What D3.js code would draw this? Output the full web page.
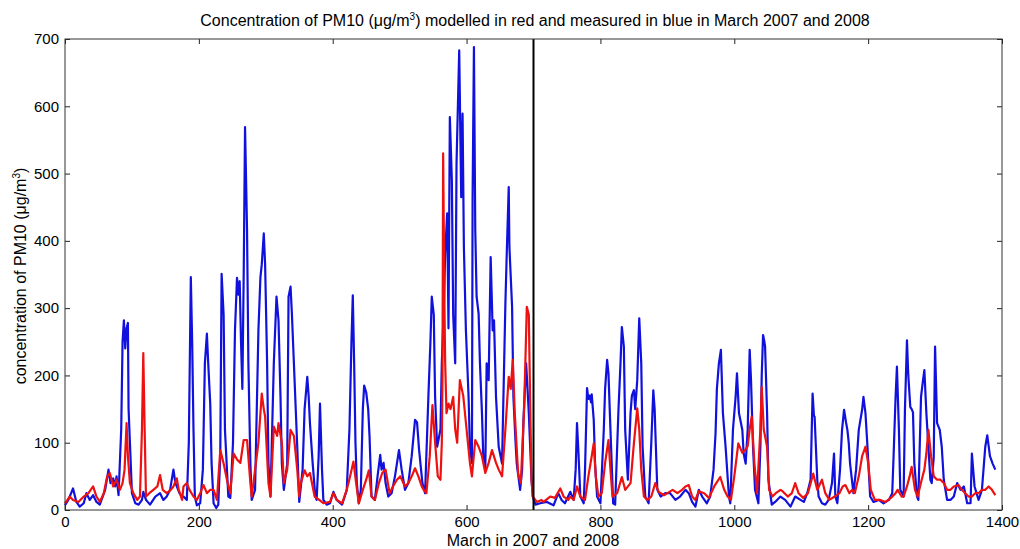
<!DOCTYPE html>
<html><head><meta charset="utf-8">
<script src="https://cdn.jsdelivr.net/npm/d3@7"></script>
<style>body{margin:0;background:#fff} text{font-family:"Liberation Sans",Arial,sans-serif}</style>
</head><body><svg id="c" width="1020" height="549"></svg>
<script>
const measuredX=[0,5,12,17,22,28,32,37,42,47,52,60,65,68,72,75,77,80,84,86,88,90,92,94,95,97,100,105,110,115,117,121,127,135,142,147,152,157,162,165,167,171,175,
177,182,185,188,190,192,194,197,202,206,209,212,214,217,219,222,226,229,232,234,237,239,244,247,251,254,257,259,261,263,265,267,269,272,274,277,279,284,289,292,294,297,299,302,304,307,312,316,319,322,324,327,332,334,337,339,342,347,
350,355,358,362,364,366,370,374,376,379,381,384,386,391,396,401,406,414,421,425,428,430,432,434,436,439,442,445,447,450,453,455,458,463,467,471,473,476,479,483,488,493,499,503,508,513,518,523,526,529,
531,534,538,543,546,548,551,553,556,558,561,563,566,568,571,573,575,578,580,583,585,589,592,594,596,599,603,605,608,609,611,613,615,618,620,623,625,628,630,633,636,639,641,644,648,653,658,660,663,664,668,670,673,675,680,683,685,689,693,697,699,703,710,
720,730,737,742,747,755,760,763,765,767,770,775,777,780,782,784,786,787,790,792,795,800,805,807,810,812,815,819,822,827,830,832,835,837,841,845,847,850,852,855,858,861,863,867,872,876,879,881,882,885,890,
897,904,912,919,927,932,937,942,947,952,959,964,969,972,974,977,980,983,987,992,994,998,1002,1004,1007,1009,1012,1014,1017,1020,1023,1025,1028,1031,1036,1039,1041,1043,1045,1046,1049,1051,1056,1061,1069,
1076,1084,1091,1099,1104,1109,1114,1117,1119,1120,1124,1126,1131,1136,1141,1146,1149,1151,1154,1158,1161,1164,1167,1169,1171,1173,1178,1182,1186,1191,1193,1196,1199,1203,1208,1216,1223,1231,1236,1238,1241,1243,1246,1248,
1253,1255,1258,1260,1263,1265,1267,1269,1273,1275,1279,1282,1284,1287,1290,1293,1295,1298,1300,1303,1307,1310,1313,1318,1323,1328,1333,1338,1343,1348,1353,1355,1359,1365,1370,1375,1378,1382,1386,1390];
const measured=[7,15,32,12,5,10,25,15,22,12,8,30,60,40,47,35,50,22,120,250,282,240,270,278,150,100,25,10,8,15,27,15,8,20,25,15,20,30,60,40,35,25,20,
20,15,100,346,250,119,20,7,10,60,218,262,218,158,70,10,3,8,80,351,290,119,20,18,100,268,345,320,340,250,180,350,569,416,218,69,15,30,267,346,365,411,365,218,69,20,218,317,282,168,69,30,69,317,332,292,218,94,
12,60,150,198,170,129,70,20,15,80,158,60,15,8,10,27,15,8,30,120,250,319,220,100,40,10,30,150,185,175,150,110,20,15,50,82,60,70,40,20,25,50,89,60,30,40,80,134,130,90,
70,40,25,170,250,317,290,168,94,104,120,218,300,380,441,270,584,490,290,218,515,683,465,589,390,267,168,94,70,465,688,416,317,292,218,144,79,60,218,193,376,267,282,168,94,69,307,380,480,391,302,168,104,69,30,60,134,218,144,45,20,8,10,
12,7,25,15,10,27,15,60,129,89,20,10,60,181,165,170,160,172,134,69,20,10,119,180,223,203,119,10,8,150,218,272,243,119,45,144,170,178,150,193,285,218,94,20,10,100,178,150,119,30,20,
25,25,15,20,30,25,12,5,30,20,10,20,60,114,180,218,238,144,94,20,10,119,168,203,144,134,119,84,69,119,238,193,94,30,10,94,200,260,250,243,144,45,8,12,20,
15,5,20,15,12,25,45,173,140,139,45,20,10,8,15,40,84,20,10,60,119,149,130,119,100,69,25,60,119,149,168,144,94,20,12,15,10,15,25,80,168,213,119,30,
20,150,252,200,153,150,145,69,20,15,168,193,208,144,94,45,40,79,243,129,119,94,45,15,15,20,40,30,35,10,10,84,35,15,30,94,111,80,69,60];
const modelledX=[0,7,12,20,28,35,42,47,52,58,63,67,72,77,82,86,89,92,94,97,102,108,112,115,117,119,121,126,132,138,142,146,152,158,162,167,170,175,
177,182,186,192,197,202,207,212,217,222,227,232,237,243,247,252,257,262,267,272,277,279,284,289,294,297,299,304,307,312,317,319,324,327,332,337,342,347,350,
351,358,362,366,373,380,386,396,401,406,414,421,426,431,435,439,445,450,454,458,463,469,474,479,485,490,496,501,508,513,518,523,528,533,
536,540,545,549,553,557,561,563,564,565,567,568,570,573,576,580,583,586,590,595,600,605,608,613,618,623,628,633,638,644,648,653,658,663,666,669,672,677,681,686,690,693,695,697,699,705,712,
715,725,732,740,745,752,755,760,765,770,777,782,787,790,793,797,802,807,812,815,818,825,832,837,845,850,855,858,861,865,870,876,882,887,895,
900,908,915,922,927,932,937,942,947,955,962,970,979,985,990,995,1000,1006,1012,1017,1020,1023,1026,1030,1034,1039,1041,1044,1049,1052,1057,1062,1069,
1072,1080,1086,1091,1096,1103,1110,1118,1124,1131,1136,1142,1150,1157,1162,1166,1172,1176,1180,1186,1191,1196,1200,1204,1210,1218,1226,1234,1241,1244,1250,
1253,1258,1262,1265,1270,1274,1280,1284,1287,1290,1294,1298,1303,1308,1313,1318,1323,1328,1335,1340,1345,1350,1355,1360,1365,1370,1375,1380,1385,1390];
const modelled=[10,20,15,12,20,25,35,20,12,25,50,55,35,45,30,40,60,129,80,40,25,15,20,120,233,120,20,25,30,35,52,30,25,30,35,47,30,15,
35,40,30,20,15,25,37,25,30,30,15,89,69,40,25,84,75,70,104,104,40,20,60,100,173,150,139,40,20,124,110,129,100,40,60,119,110,60,20,
35,59,50,55,20,15,10,12,25,15,10,30,50,72,40,10,30,45,59,20,15,40,55,60,25,35,45,50,35,40,50,62,50,35,
30,25,80,156,100,50,45,100,200,530,300,220,144,158,150,168,120,100,193,170,120,70,50,104,94,80,55,70,89,70,60,50,120,198,180,223,144,54,40,150,302,290,160,45,20,12,15,
12,20,18,32,20,15,20,15,35,20,15,50,80,99,50,20,25,70,104,60,20,25,49,30,40,99,151,120,60,20,15,20,40,27,22,
25,30,25,30,35,37,20,15,28,25,18,35,49,30,20,15,50,99,85,90,95,120,139,70,25,120,183,120,94,30,20,25,30,
28,20,25,40,25,18,25,54,30,45,25,15,20,25,35,37,25,30,25,50,80,94,70,30,15,15,12,18,25,30,20,
20,35,50,64,30,20,45,60,84,119,80,50,45,45,40,30,30,35,37,30,25,20,20,25,25,30,30,35,30,22];
const xTicks=[0,200,400,600,800,1000,1200,1400];
const yTicks=[0,100,200,300,400,500,600,700];
const divider=700;

const svg=d3.select("#c");
const x=d3.scaleLinear().domain([0,1400]).range([65,1002]);
const y=d3.scaleLinear().domain([0,700]).range([510,39]);

const line=d3.line().x(d=>x(d[0])).y(d=>y(d[1]));
const mData=measuredX.map((v,i)=>[v,measured[i]]);
const rData=modelledX.map((v,i)=>[v,modelled[i]]);

svg.append("path").datum(mData).attr("d",line).attr("fill","none").attr("stroke","#1111dd").attr("stroke-width",2.2).attr("stroke-linejoin","round");
svg.append("path").datum(rData).attr("d",line).attr("fill","none").attr("stroke","#ee1111").attr("stroke-width",2.2).attr("stroke-linejoin","round");

svg.append("line").attr("x1",x(divider)).attr("x2",x(divider)).attr("y1",y(700)).attr("y2",y(0)).attr("stroke","#000").attr("stroke-width",2);

const fmt=d3.format("d");
function styleAxis(g){g.select(".domain").remove();g.selectAll(".tick line").attr("stroke","#222");g.selectAll("text").attr("fill","#000").style("font-size","15px").style("font-family","'Liberation Sans',Arial,sans-serif");}
svg.append("g").attr("transform","translate(0,510)").call(d3.axisBottom(x).tickValues(xTicks).tickFormat(fmt).tickSize(-5).tickPadding(6)).call(styleAxis);
svg.append("g").attr("transform","translate(0,39)").call(d3.axisTop(x).tickValues(xTicks).tickSize(-5).tickFormat("")).call(styleAxis);
svg.append("g").attr("transform","translate(65,0)").call(d3.axisLeft(y).tickValues(yTicks).tickFormat(fmt).tickSize(-5).tickPadding(6)).call(styleAxis);
svg.append("g").attr("transform","translate(1002,0)").call(d3.axisRight(y).tickValues(yTicks).tickSize(-5).tickFormat("")).call(styleAxis);
svg.append("rect").attr("x",65).attr("y",39).attr("width",937).attr("height",471).attr("fill","none").attr("stroke","#333").attr("stroke-width",1);

const t=svg.append("text").attr("x",535).attr("y",26).attr("text-anchor","middle").style("font-size","16px");
t.append("tspan").text("Concentration of PM10 (μg/m");
t.append("tspan").attr("dy",-6).style("font-size","10px").text("3");
t.append("tspan").attr("dy",6).text(") modelled in red and measured in blue in March 2007 and 2008");

svg.append("text").attr("x",533).attr("y",546).attr("text-anchor","middle").style("font-size","16px").text("March in 2007 and 2008");

const yl=svg.append("text").attr("transform","translate(26,276) rotate(-90)").attr("text-anchor","middle").style("font-size","16px");
yl.append("tspan").text("concentration of PM10 (μg/m");
yl.append("tspan").attr("dy",-6).style("font-size","10px").text("3");
yl.append("tspan").attr("dy",6).text(")");
</script></body></html>
